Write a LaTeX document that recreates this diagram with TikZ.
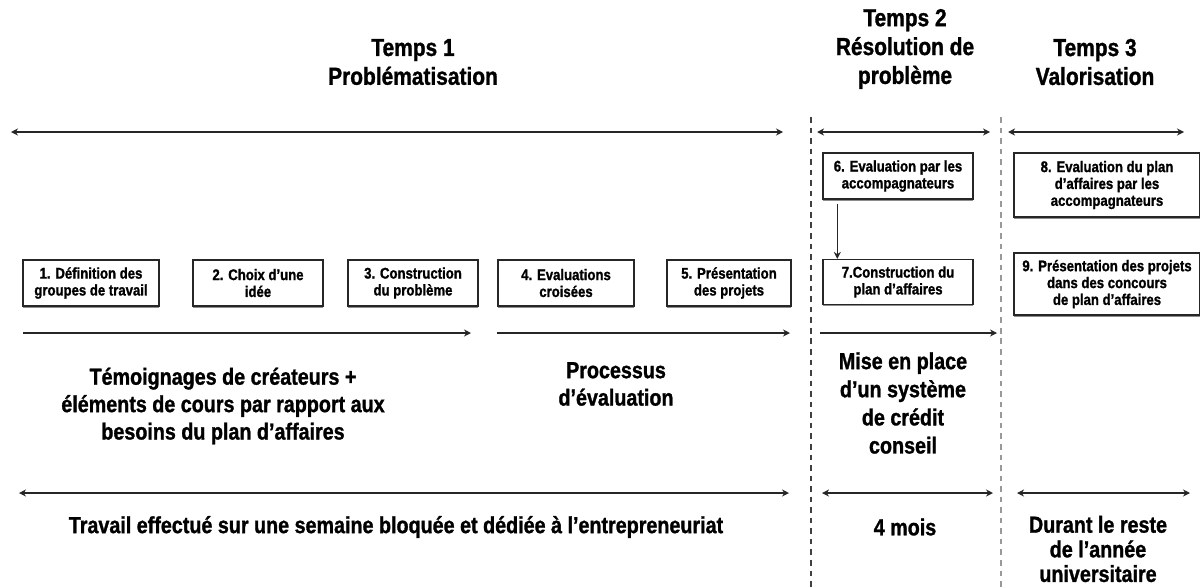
\documentclass[tikz,border=0pt]{standalone}
\usepackage{fontspec}
\setmainfont{Liberation Sans}[FakeStretch=0.85, BoldFeatures={FakeBold=1.2}]
\usetikzlibrary{arrows.meta, shadows}

\begin{document}
\begin{tikzpicture}[
    x=0.025cm, y=-0.025cm,
    every node/.style={inner sep=0pt},
    titre/.style={align=center, font=\fontsize{17.5}{20.5}\selectfont\bfseries},
    texte/.style={align=center, font=\fontsize{16.5}{19.5}\selectfont\bfseries},
    etape/.style={draw=black!85, fill=white, line width=1pt, align=center,
      drop shadow={shadow xshift=0pt, shadow yshift=-1.2pt, fill=black!45, opacity=1},
      font=\fontsize{11}{12}\selectfont\bfseries},
    duree/.style={line width=1.1pt, black!85, {Stealth[length=5pt,width=5pt]}-{Stealth[length=5pt,width=5pt]}},
    fleche/.style={line width=1.1pt, black!85, -{Stealth[length=5pt,width=5pt]}},
    separ/.style={line width=1.4pt, dash pattern=on 4pt off 3.5pt}
  ]
    \useasboundingbox (0,0) rectangle (1200,587);

    % Titres des trois temps
    \node[titre] (temps1) at (413,62) {Temps 1\\Problématisation};
    \node[titre] (temps2) at (905,49) {Temps 2\\Résolution de\\problème};
    \node[titre] (temps3) at (1095,62) {Temps 3\\Valorisation};

    % Separations
    \coordinate (s1h) at (811,117);
    \coordinate (s1b) at (811,587);
    \coordinate (s2h) at (1001,117);
    \coordinate (s2b) at (1001,587);
    \draw[separ, black!75] (s1h) -- (s1b);
    \draw[separ, black!40] (s2h) -- (s2b);

    % Durees du haut
    \coordinate (h1a) at (11,132);
    \coordinate (h1b) at (783,132);
    \coordinate (h2a) at (817,132);
    \coordinate (h2b) at (990,132);
    \coordinate (h3a) at (1008,132);
    \coordinate (h3b) at (1184,132);
    \draw[duree] (h1a) -- (h1b);
    \draw[duree] (h2a) -- (h2b);
    \draw[duree] (h3a) -- (h3b);

    % Etapes
    \node[etape, minimum width=3.4cm, minimum height=1.15cm] (e1) at (91,283) {1. Définition des\\groupes de travail};
    \node[etape, minimum width=3.25cm, minimum height=1.15cm] (e2) at (258,283) {2. Choix d'une\\idée};
    \node[etape, minimum width=3.25cm, minimum height=1.15cm] (e3) at (413,283) {3. Construction\\du problème};
    \node[etape, minimum width=3.4cm, minimum height=1.15cm] (e4) at (566,283) {4. Evaluations\\croisées};
    \node[etape, minimum width=3.1cm, minimum height=1.15cm] (e5) at (729,283) {5. Présentation\\des projets};
    \node[etape, minimum width=3.75cm, minimum height=1.15cm] (e6) at (898,176) {6. Evaluation par les\\accompagnateurs};
    \node[etape, minimum width=3.75cm, minimum height=1.12cm] (e7) at (898,282) {7.Construction du\\plan d'affaires};
    \node[etape, minimum width=4.65cm, minimum height=1.6cm] (e8) at (1107,185) {8. Evaluation du plan\\d'affaires par les\\accompagnateurs};
    \node[etape, minimum width=4.65cm, minimum height=1.55cm] (e9) at (1107,284) {9. Présentation des projets\\dans des concours\\de plan d'affaires};

    \draw[fleche, shorten <=3pt] ([xshift=0.375cm]e6.south west) -- ([xshift=0.375cm]e7.north west);

    % Fleches du milieu
    \coordinate (m1a) at (23,333);
    \coordinate (m1b) at (471,333);
    \coordinate (m2a) at (497,333);
    \coordinate (m2b) at (790,333);
    \coordinate (m3a) at (820,333);
    \coordinate (m3b) at (997,333);
    \draw[fleche] (m1a) -- (m1b);
    \draw[fleche] (m2a) -- (m2b);
    \draw[fleche] (m3a) -- (m3b);

    \node[texte] (temoin) at (223,406) {Témoignages de créateurs +\\éléments de cours par rapport aux\\besoins du plan d'affaires};
    \node[texte] (process) at (616,384) {Processus\\d'évaluation};
    \node[texte, font=\fontsize{16.5}{20}\selectfont\bfseries] (credit) at (903,403) {Mise en place\\d'un système\\de crédit\\conseil};

    % Durees du bas
    \coordinate (b1a) at (19,493);
    \coordinate (b1b) at (789,493);
    \coordinate (b2a) at (822,493);
    \coordinate (b2b) at (993,493);
    \coordinate (b3a) at (1017,493);
    \coordinate (b3b) at (1190,493);
    \draw[duree] (b1a) -- (b1b);
    \draw[duree] (b2a) -- (b2b);
    \draw[duree] (b3a) -- (b3b);

    \node[texte] (semaine) at (396,527) {Travail effectué sur une semaine bloquée et dédiée à l'entrepreneuriat};
    \node[texte] (mois) at (905,527) {4 mois};
    \node[texte, font=\fontsize{16.5}{17.5}\selectfont\bfseries] (reste) at (1098,549) {Durant le reste\\de l'année\\universitaire};
\end{tikzpicture}
\end{document}
